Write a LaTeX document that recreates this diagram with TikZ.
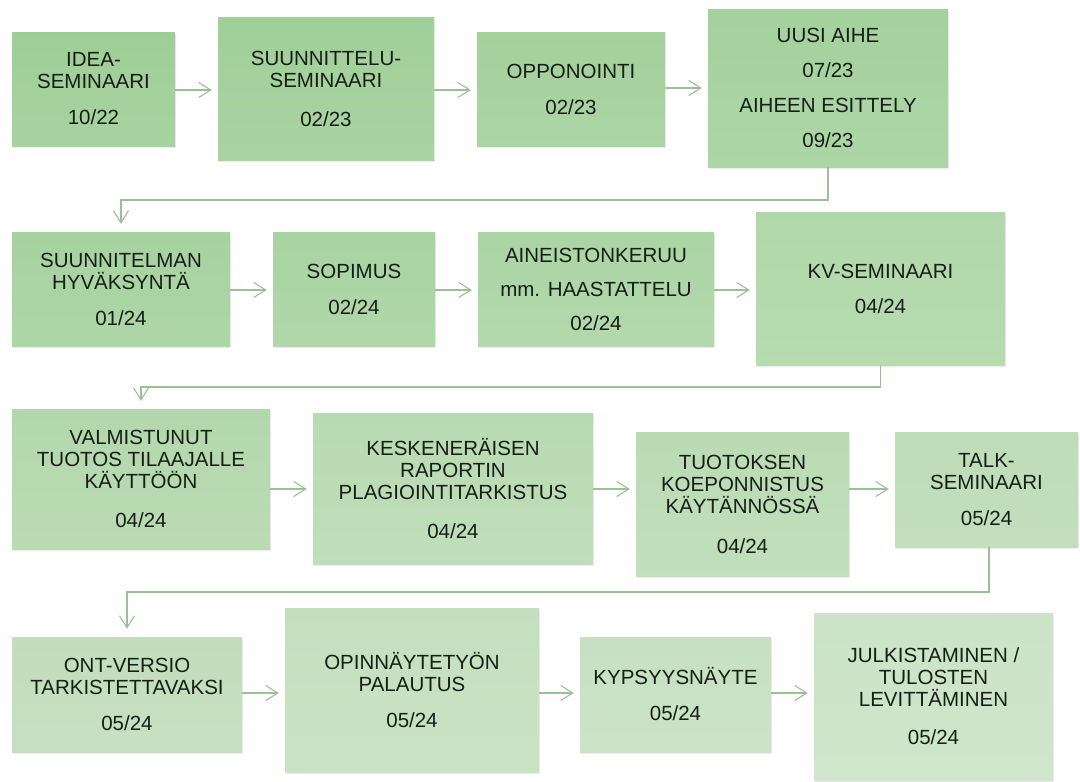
\documentclass[tikz,border=0pt]{standalone}
\usepackage{fontspec}
\setmainfont{Liberation Sans}
\usetikzlibrary{arrows.meta,shadows}
\definecolor{c1}{RGB}{158,206,150}
\definecolor{c2}{RGB}{160,207,152}
\definecolor{c3}{RGB}{163,208,155}
\definecolor{c4}{RGB}{164,209,157}
\definecolor{c5}{RGB}{166,210,159}
\definecolor{c6}{RGB}{168,211,161}
\definecolor{c7}{RGB}{171,212,164}
\definecolor{c8}{RGB}{176,215,169}
\definecolor{c9}{RGB}{179,215,172}
\definecolor{c10}{RGB}{184,218,178}
\definecolor{c11}{RGB}{186,219,180}
\definecolor{c12}{RGB}{189,220,183}
\definecolor{c13}{RGB}{193,221,187}
\definecolor{c14}{RGB}{196,223,190}
\definecolor{c15}{RGB}{199,224,193}
\definecolor{c16}{RGB}{203,227,198}
\definecolor{arrowc}{RGB}{156,192,150}
\definecolor{txt}{RGB}{22,30,22}
\tikzset{
  stepbox/.style n args={3}{rectangle, inner sep=0pt, minimum width=#1pt, minimum height=#2pt,
    top color=#3, bottom color=#3!90!white, draw=none, align=center, text=txt,
    font=\fontsize{20.5}{22}\selectfont,
    general shadow={fill=black, opacity=0.07, shadow xshift=1pt, shadow yshift=-2pt}},
  arr/.style={draw=arrowc, line width=1.1pt, -{Straight Barb[length=12pt,width=15pt,line width=1.1pt]}, shorten >=6pt},
  link/.style={draw=arrowc, line width=1.1pt, -{Straight Barb[length=12pt,width=15pt,line width=1.1pt]}, shorten >=8pt}
}
\begin{document}
\begin{tikzpicture}[x=1pt,y=-1pt]
\useasboundingbox[fill=white] (0,0) rectangle (1080,782);
% row 1
\node[stepbox={163}{114}{c1}] (idea) at (93.5,89) {IDEA-\\SEMINAARI\\[14pt]10/22};
\node[stepbox={216}{143}{c2}] (suun) at (326,88.5) {SUUNNITTELU-\\SEMINAARI\\[17pt]02/23};
\node[stepbox={188}{114}{c3}] (opp) at (571,89) {OPPONOINTI\\[14pt]02/23};
\node[stepbox={240}{158}{c4}] (uusi) at (828,88) {UUSI AIHE\\[13pt]07/23\\[13pt]AIHEEN ESITTELY\\[13pt]09/23};
% row 2
\node[stepbox={218}{114}{c5}] (sunn) at (121,289) {SUUNNITELMAN\\HYVÄKSYNTÄ\\[14pt]01/24};
\node[stepbox={162}{114}{c6}] (sop) at (354,289) {SOPIMUS\\[14pt]02/24};
\node[stepbox={236}{114}{c7}] (aine) at (596,289) {AINEISTONKERUU\\[12pt]mm. HAASTATTELU\\[12pt]02/24};
\node[stepbox={249}{153}{c8}] (kv) at (880.5,288.5) {KV-SEMINAARI\\[13pt]04/24};
% row 3
\node[stepbox={258}{140}{c9}] (valm) at (141,479) {VALMISTUNUT\\TUOTOS TILAAJALLE\\KÄYTTÖÖN\\[17pt]04/24};
\node[stepbox={280}{151}{c10}] (kesk) at (453,488.5) {KESKENERÄISEN\\RAPORTIN\\PLAGIOINTITARKISTUS\\[17pt]04/24};
\node[stepbox={213}{144}{c11}] (tuot) at (742.5,504) {TUOTOKSEN\\KOEPONNISTUS\\KÄYTÄNNÖSSÄ\\[18pt]04/24};
\node[stepbox={183}{115}{c12}] (talk) at (986.5,489.5) {TALK-\\SEMINAARI\\[14pt]05/24};
% row 4
\node[stepbox={230}{115}{c13}] (ont) at (127,694.5) {ONT-VERSIO\\TARKISTETTAVAKSI\\[14pt]05/24};
\node[stepbox={254}{164}{c14}] (opin) at (412,690) {OPINNÄYTETYÖN\\PALAUTUS\\[14pt]05/24};
\node[stepbox={191}{115}{c15}] (kyps) at (675.5,694.5) {KYPSYYSNÄYTE\\[14pt]05/24};
\node[stepbox={239}{167}{c16}] (julk) at (933.5,696.5) {JULKISTAMINEN /\\TULOSTEN\\LEVITTÄMINEN\\[16pt]05/24};
% horizontal arrows
\coordinate (r1) at (0,90);
\coordinate (r1b) at (0,88);
\coordinate (r2) at (0,290);
\coordinate (r3) at (0,489);
\coordinate (r4) at (0,693);
\draw[arr] (idea.east |- r1) -- (suun.west |- r1);
\draw[arr] (suun.east |- r1) -- (opp.west |- r1);
\draw[arr] (opp.east |- r1b) -- (uusi.west |- r1b);
\draw[arr] (sunn.east |- r2) -- (sop.west |- r2);
\draw[arr] (sop.east |- r2) -- (aine.west |- r2);
\draw[arr] (aine.east |- r2) -- (kv.west |- r2);
\draw[arr] (valm.east |- r3) -- (kesk.west |- r3);
\draw[arr] (kesk.east |- r3) -- (tuot.west |- r3);
\draw[arr] (tuot.east |- r3) -- (talk.west |- r3);
\draw[arr] (ont.east |- r4) -- (opin.west |- r4);
\draw[arr] (opin.east |- r4) -- (kyps.west |- r4);
\draw[arr] (kyps.east |- r4) -- (julk.west |- r4);
% row links
\coordinate (k1) at (0,200);
\coordinate (k2) at (0,387);
\coordinate (k3) at (0,592);
\draw[link] (uusi.south) -- (uusi.south |- k1) -| (sunn.north);
\draw[link] (kv.south) -- (kv.south |- k2) -| (valm.north);
\draw[link] ([xshift=2.5pt]talk.south) -- ([xshift=2.5pt]talk.south |- k3) -| (ont.north);
\end{tikzpicture}
\end{document}
